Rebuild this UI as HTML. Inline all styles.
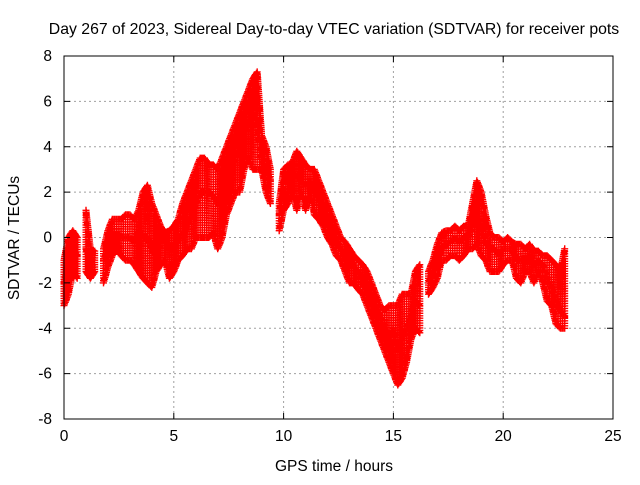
<!DOCTYPE html>
<html><head><meta charset="utf-8"><style>
body{margin:0;background:#fff}
svg text{font-family:"Liberation Sans",sans-serif;font-size:15.5px;fill:#000}
</style></head><body>
<svg id="c" width="640" height="480" xmlns="http://www.w3.org/2000/svg">
<rect width="640" height="480" fill="#fff"/>
<g id="grid"></g>
<g id="marks"></g>
<rect x="64" y="56" width="549" height="363" fill="none" stroke="#000" stroke-width="1"/>
<g id="ticks"></g>
<text x="334" y="34" text-anchor="middle" style="font-size:15.8px">Day 267 of 2023, Sidereal Day-to-day VTEC variation (SDTVAR) for receiver pots</text>
<text x="334" y="471" text-anchor="middle">GPS time / hours</text>
<text x="0" y="0" text-anchor="middle" transform="translate(19,238) rotate(-90)">SDTVAR / TECUs</text>
</svg>
<script>
const xTicks=[0,5,10,15,20,25];
const yTicks=[-8,-6,-4,-2,0,2,4,6,8];
const hours=[0,0.2,0.4,0.6,0.8,1.0,1.2,1.4,1.6,1.8,2.0,2.2,2.4,2.6,2.8,3.0,3.2,3.4,3.6,3.8,4.0,4.2,4.4,4.6,4.8,5.0,5.2,5.4,5.6,5.8,6.0,6.2,6.4,6.6,6.8,7.0,7.2,7.4,7.6,7.8,8.0,8.2,8.4,8.6,8.8,9.0,9.2,9.4,9.6,9.8,10.0,10.2,10.4,10.6,10.8,11.0,11.2,11.4,11.6,11.8,12.0,12.2,12.4,12.6,12.8,13.0,13.2,13.4,13.6,13.8,14.0,14.2,14.4,14.6,14.8,15.0,15.2,15.4,15.6,15.8,16.0,16.2,16.4,16.6,16.8,17.0,17.2,17.4,17.6,17.8,18.0,18.2,18.4,18.6,18.8,19.0,19.2,19.4,19.6,19.8,20.0,20.2,20.4,20.6,20.8,21.0,21.2,21.4,21.6,21.8,22.0,22.2,22.4,22.6,22.8];
const lowStrand=[-3,-2.5,-1.5,-1.8,null,-1.5,-1.8,-1.5,null,-2,-1.3,-0.8,-0.5,-0.8,-1,-1,-1.2,-1.5,-1.8,-2,-2.2,-1.5,-1.2,-1,-1.8,-1.5,-1,-0.8,-0.5,-0.5,0,0,0,0,0.2,-0.5,0,1,1.5,2,2,3,3.5,3,3,3,2,1.5,null,0.3,1.2,1.5,2,1.2,2,1.2,2,1,0.8,0.5,0,-0.3,-0.8,-1,-1.5,-2,-2,-2.3,-2.5,-3,-3.5,-4,-4.5,-5,-5.5,-6,-6.5,-6.2,-5.5,-4.5,-4,-4.2,null,-2.5,-2.2,-1.8,-1,-1,-0.8,-0.8,-1,-0.8,-0.5,-0.5,-0.3,-0.8,-1,-1.5,-1.5,-1.5,-1.2,-1,-1,-1.8,-2,-1.5,-1.5,-2,-1.5,-2,-2.8,-3,-3.8,-4,-4];
const midStrand=[-2,-1.2,-0.5,-0.8,null,-0.5,-1,-1,null,-1,-0.5,0,0.2,0,0,0,-0.2,0.3,0,0,-0.5,-0.8,-0.2,0,-0.5,-0.5,0,0,0.5,1,1.5,2,2,2,1.8,1.5,2,2.5,3,3.5,4,4.5,5,5.5,5,3.5,3,2.5,null,1,2.5,2.8,2.8,2.8,2.5,2.3,2.5,2,1.8,1.2,0.8,0.3,-0.2,-0.5,-0.8,-1,-1.3,-1.5,-2,-2.3,-2.8,-3.2,-3.5,-4,-4.5,-4,-5,-4.5,-4,-3.5,-2.8,-3,null,-2,-1.5,-1,-0.5,-0.3,-0.2,0,-0.2,0,0,0.5,1,0.5,-0.2,-0.5,-0.5,-0.8,-0.5,-0.5,-0.5,-1,-1,-1,-0.8,-1.2,-1,-1.2,-1.8,-2.2,-2.8,-3.2,-3.5];
const highStrand=[-1,0,0.3,0,null,1.2,-0.5,-0.6,null,-0.5,0.3,0.8,0.8,0.8,1,1,0.8,1.2,2,2.3,1.5,1,0.5,0.2,0.3,0.5,0.8,1.5,2,2.5,3,3.5,3.5,3.2,3.2,3,3.5,4,4.5,5,5.5,6,6.5,7,7.3,4.5,4,3,null,1.5,3,3.2,3.3,3.8,3.5,3.2,3,3,2.5,2,1.5,1,0.5,0,-0.2,-0.5,-0.8,-1,-1.2,-1.5,-2,-2.5,-3,-3.2,-3,-3,-3,-2.5,-2.5,-2.5,-1.5,-1.2,null,-1.5,-1,-0.3,0.2,0.3,0.3,0.5,0.3,0.5,0.5,1.5,2.5,2,1,0.2,0,0,-0.2,0,-0.2,-0.3,-0.3,-0.5,-0.3,-0.6,-0.6,-0.8,-0.8,-1,-1.2,-1.5,-0.5];
const NS='http://www.w3.org/2000/svg';
const X0=64,X1=613,Y0=419,Y1=56;
function xs(v){return X0+(v-0)/(25-0)*(X1-X0);}
function ys(v){return Y0-(v+8)/16*(Y0-Y1);}
const grid=document.getElementById('grid'),ticks=document.getElementById('ticks'),marks=document.getElementById('marks');
function mk(tag,attrs,parent){const e=document.createElementNS(NS,tag);for(const k in attrs)e.setAttribute(k,attrs[k]);parent.appendChild(e);return e;}
xTicks.forEach(t=>{const x=xs(t);
 if(t>0&&t<25){const g=mk('line',{x1:x,x2:x,y1:Y1,y2:Y0,stroke:'#a0a0a0','stroke-dasharray':'2,3'},grid);
 
 }
 mk('line',{x1:x,x2:x,y1:Y0,y2:Y0-6,stroke:'#000'},ticks);mk('line',{x1:x,x2:x,y1:Y1,y2:Y1+6,stroke:'#000'},ticks);
 const l=mk('text',{x:x,y:Y0+22,'text-anchor':'middle'},ticks);l.textContent=t;
 
 });
yTicks.forEach(t=>{const y=ys(t);
 if(t>-8&&t<8){const g=mk('line',{x1:X0,x2:X1,y1:y,y2:y,stroke:'#a0a0a0','stroke-dasharray':'2,3'},grid);
 
 }
 mk('line',{x1:X0,x2:X0+6,y1:y,y2:y,stroke:'#000'},ticks);mk('line',{x1:X1,x2:X1-6,y1:y,y2:y,stroke:'#000'},ticks);
 const l=mk('text',{x:X0-12,y:y+5,'text-anchor':'end'},ticks);l.textContent=t;
 
 });
let d='';
function plus(x,y){d+=`M${(x-3.5).toFixed(1)},${y.toFixed(1)}H${(x+3.5).toFixed(1)}M${x.toFixed(1)},${(y-3.5).toFixed(1)}V${(y+3.5).toFixed(1)}`;}
function run(x1,y1,x2,y2,step){const n=Math.max(1,Math.ceil(Math.hypot(x2-x1,y2-y1)/step));for(let k=0;k<=n;k++){plus(x1+(x2-x1)*k/n,y1+(y2-y1)*k/n);}}
[lowStrand,midStrand,highStrand].forEach(series=>{
 hours.forEach((h,i)=>{const v=series[i];if(v===null)return;
  const x=xs(h),y=ys(v);plus(x,y);
  const nv=series[i+1];if(i+1<hours.length&&nv!==null&&nv!==undefined){run(x,y,xs(hours[i+1]),ys(nv),2);}
 });
});
hours.forEach((h,i)=>{const a=lowStrand[i],b=highStrand[i];if(a===null)return;
 run(xs(h),ys(a),xs(h),ys(b),2.5);
 const na=lowStrand[i+1],nb=highStrand[i+1];
 if(i+1<hours.length&&na!==null&&na!==undefined){const hm=(h+hours[i+1])/2;run(xs(hm),ys((a+na)/2),xs(hm),ys((b+nb)/2),2.5);}
});
const p=mk('path',{d:d,stroke:'#f00','stroke-width':1.4,fill:'none'},marks);


</script>
</body></html>
